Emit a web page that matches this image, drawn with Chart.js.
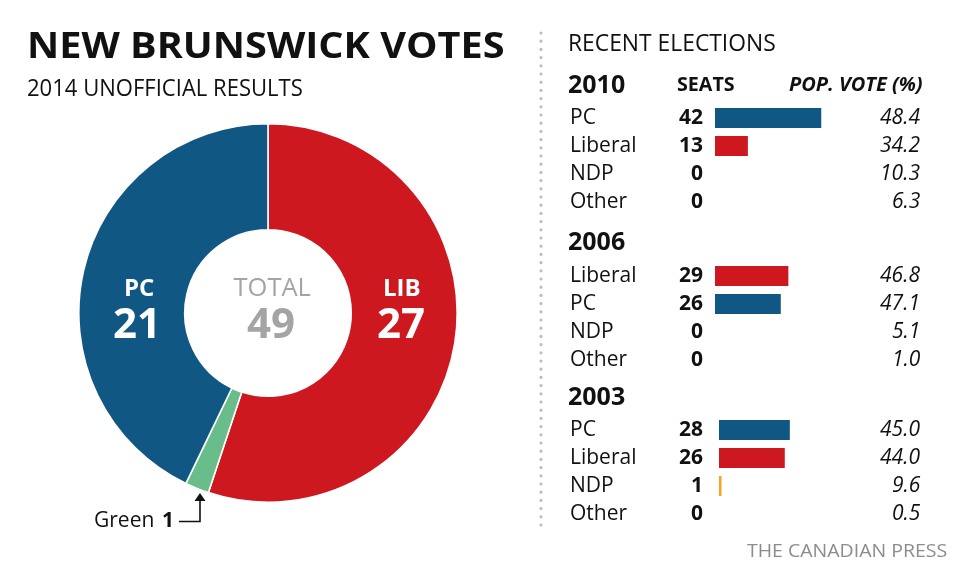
<!DOCTYPE html>
<html>
<head>
<meta charset="utf-8">
<script src="https://cdn.jsdelivr.net/npm/chart.js@4.4.0/dist/chart.umd.min.js"></script>
<style>
  html, body { margin:0; padding:0; background:#fff; }
  #stage { position:relative; width:960px; height:570px; overflow:hidden; font-family:"Open Sans", "Noto Sans", sans-serif; color:#111; }
  .t { position:absolute; white-space:nowrap; line-height:1; transform-origin:left center; }
  canvas { position:absolute; }
</style>
</head>
<body>
<div id="stage">
  <canvas id="donut" width="380" height="380" style="left:78px;top:123px;width:380px;height:380px"></canvas>
  <canvas id="g2010" width="130" height="112" style="left:715px;top:104px;width:130px;height:112px"></canvas>
  <canvas id="g2006" width="130" height="112" style="left:715px;top:262px;width:130px;height:112px"></canvas>
  <canvas id="g2003" width="130" height="112" style="left:719px;top:416px;width:130px;height:112px"></canvas>
  <svg style="position:absolute;left:0;top:0" width="960" height="570">
    <line x1="541" y1="33" x2="541" y2="527" stroke="#bdbdbd" stroke-width="3.2" stroke-linecap="round" stroke-dasharray="0 8.2"/>
    <polyline points="179,521.5 200,521.5 200,499" fill="none" stroke="#111" stroke-width="1.6"/>
    <polygon points="200,493 194.5,501 205.5,501" fill="#111"/>
  </svg>
</div>
<script>
// ---------- DATA ----------
const seats2014Labels = ['LIB', 'Green', 'PC'];
const seats2014 = [27, 1, 21];
const seats2014Total = 49;

const years = ['2010', '2006', '2003'];
const parties2010 = ['PC', 'Liberal', 'NDP', 'Other'];
const seats2010 = [42, 13, 0, 0];
const vote2010 = ['48.4', '34.2', '10.3', '6.3'];
const parties2006 = ['Liberal', 'PC', 'NDP', 'Other'];
const seats2006 = [29, 26, 0, 0];
const vote2006 = ['46.8', '47.1', '5.1', '1.0'];
const parties2003 = ['PC', 'Liberal', 'NDP', 'Other'];
const seats2003 = [28, 26, 1, 0];
const vote2003 = ['45.0', '44.0', '9.6', '0.5'];

// ---------- STYLE ----------
const partyColor = { PC:'#115784', Liberal:'#cd1820', LIB:'#cd1820', NDP:'#f5a41f', Other:'#999999', Green:'#68bd8b' };
const stage = document.getElementById('stage');

function txt(s, o) {
  const d = document.createElement('div');
  d.className = 't';
  d.textContent = s;
  d.style.fontSize = o.size + 'px';
  d.style.fontWeight = o.bold ? '700' : '400';
  d.style.fontStyle = o.italic ? 'italic' : 'normal';
  d.style.color = o.color || '#111';
  stage.appendChild(d);
  const w = d.offsetWidth, h = d.offsetHeight;
  let sx = 1;
  if (o.w) sx = o.w / w;
  const ww = w * sx;
  let left;
  if (o.align === 'right') left = o.x - ww;
  else if (o.align === 'center') left = o.x - ww / 2;
  else left = o.x;
  d.style.left = left + 'px';
  d.style.top = (o.y - h / 2 - o.size * 0.03) + 'px';
  if (sx !== 1) d.style.transform = 'scaleX(' + sx + ')';
  return d;
}

// Headline
txt('NEW BRUNSWICK VOTES', {x:27, y:45.5, size:35, bold:true, w:478});
txt('2014 UNOFFICIAL RESULTS', {x:27, y:88.5, size:23, w:276});
txt('RECENT ELECTIONS', {x:568, y:43.5, size:23.5, w:208});
txt('THE CANADIAN PRESS', {x:747, y:551.5, size:19, color:'#8c8c8c', w:200});

// Doughnut
const donut = new Chart(document.getElementById('donut'), {
  type: 'doughnut',
  data: { labels: seats2014Labels, datasets: [{ data: seats2014,
    backgroundColor: seats2014Labels.map(p => partyColor[p]),
    borderColor: '#ffffff', borderWidth: 1.6 }] },
  options: {
    responsive: false, animation: false, cutout: '44%',
    layout: { padding: 0 },
    plugins: { legend: { display:false }, tooltip: { enabled:false } }
  }
});
txt('PC', {x:139, y:287.5, size:24, bold:true, color:'#fff', align:'center'});
txt(String(seats2014[2]), {x:137, y:323, size:42, bold:true, color:'#fff', align:'center'});
txt('LIB', {x:402, y:287.5, size:24, bold:true, color:'#fff', align:'center'});
txt(String(seats2014[0]), {x:401, y:323, size:42, bold:true, color:'#fff', align:'center'});
txt('TOTAL', {x:272, y:288, size:25.5, color:'#a4a4a4', align:'center'});
txt(String(seats2014Total), {x:271, y:323, size:42, bold:true, color:'#a4a4a4', align:'center'});
txt('Green ', {x:94, y:520.5, size:21});
txt(String(seats2014[1]), {x:162, y:520.5, size:21, bold:true});

// Recent elections
const PX_PER_SEAT = 2.53;
const headerY = [84, 241.5, 396];
txt('SEATS', {x:677, y:84.5, size:20, bold:true, w:58});
txt('POP. VOTE (%)', {x:923, y:84.5, size:20, bold:true, italic:true, align:'right', w:134});

const groups = [
  { id:'g2010', year:years[0], parties:parties2010, seats:seats2010, vote:vote2010, hy:headerY[0] },
  { id:'g2006', year:years[1], parties:parties2006, seats:seats2006, vote:vote2006, hy:headerY[1] },
  { id:'g2003', year:years[2], parties:parties2003, seats:seats2003, vote:vote2003, hy:headerY[2] }
];
groups.forEach(g => {
  const cv = document.getElementById(g.id);
  const ch = new Chart(cv, {
    type: 'bar',
    data: { labels: g.parties, datasets: [{ data: g.seats,
      backgroundColor: g.parties.map(p => partyColor[p]),
      borderWidth: 0, inflateAmount: 0, barThickness: 20 }] },
    options: {
      indexAxis: 'y', responsive: false, animation: false,
      layout: { padding: 0 },
      scales: {
        x: { display:false, min:0, max: 130 / PX_PER_SEAT },
        y: { display:false }
      },
      plugins: { legend:{display:false}, tooltip:{enabled:false} }
    }
  });
  const top = parseFloat(cv.style.top);
  txt(g.year, {x:568, y:g.hy, size:25, bold:true});
  g.parties.forEach((p, i) => {
    const y = top + ch.scales.y.getPixelForValue(i) - 1;
    txt(p, {x:570, y:y, size:21});
    txt(String(g.seats[i]), {x:703, y:y, size:21, bold:true, align:'right'});
    txt(g.vote[i], {x:920, y:y, size:21, italic:true, align:'right'});
  });
});
</script>
</body>
</html>
